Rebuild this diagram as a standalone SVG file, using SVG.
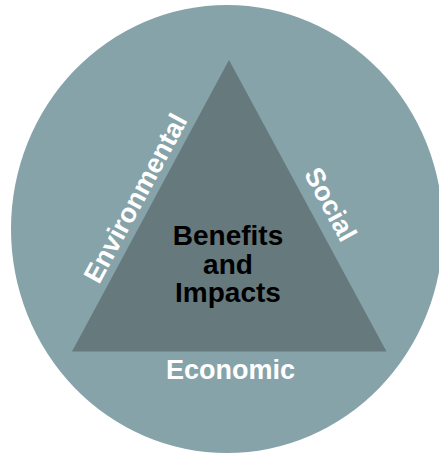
<svg xmlns="http://www.w3.org/2000/svg" width="439" height="458" viewBox="0 0 439 458">
  <style>
    .lbl { font-family: "Liberation Sans", Arial, sans-serif; font-weight: bold; font-size: 27px; text-anchor: middle; }
    .out { fill: #ffffff; }
    .in { fill: #000000; font-size: 28px; }
  </style>
  <rect width="439" height="458" fill="#ffffff"/>
  <g id="circle">
    <ellipse cx="227" cy="229" rx="216" ry="224" fill="#86a3a9"/>
  </g>
  <g id="triangle">
    <polygon points="229,60 72,351.5 386.5,351.5" fill="#66797c"/>
    <text class="lbl in" x="228" y="245">Benefits</text>
    <text class="lbl in" x="228" y="273.5">and</text>
    <text class="lbl in" x="228" y="302">Impacts</text>
  </g>
  <g id="environmental">
    <text class="lbl out" transform="translate(135,198) rotate(-61.6)" x="0" y="9.7">Environmental</text>
  </g>
  <g id="social">
    <text class="lbl out" transform="translate(331,204) rotate(61.6)" x="0" y="9.7">Social</text>
  </g>
  <g id="economic">
    <text class="lbl out" x="230.5" y="379">Economic</text>
  </g>
  <g id="connectors"/>
</svg>
